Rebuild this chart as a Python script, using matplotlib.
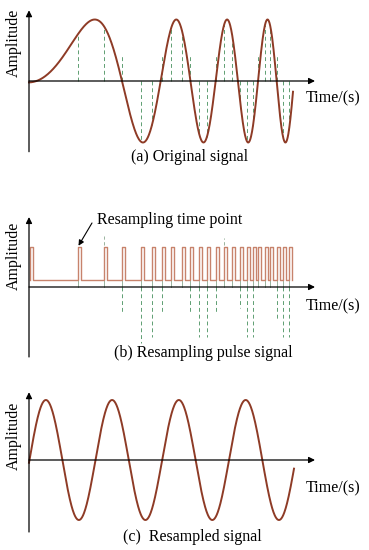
import numpy as np
import matplotlib
matplotlib.use("Agg")
import matplotlib.pyplot as plt

plt.rcParams["font.family"] = ["Liberation Serif", "DejaVu Serif"]
plt.rcParams["font.size"] = 11.5

# ---- data (time in arbitrary units, y-axis at t=0) ----
# (a) original signal: times of peaks, troughs and zero crossings
a_zero = [0, 94, 132, 161, 187, 211, 229, 248]
a_peak = [67, 147, 198, 238]
a_trough = [113, 173, 219, 256]
a_end = 264

# (b) resampling pulses (rising edge times), pulse width and levels
pulse_t = [1, 49, 75, 93, 112, 123, 133, 142, 153, 161, 170, 178,
           187, 195, 203, 211, 218, 224, 229, 236, 241, 248, 254, 260]
pulse_w = 3.3
pulse_low = 0.2
pulse_high = 1.2
below_idx = [3, 4, 5, 6, 9, 10, 11, 12, 15, 16, 17, 21, 22, 23]
below_depth = [0.75, 1.7, 1.5, 0.8, 0.75, 1.5, 1.5, 0.75, 0.65, 1.5, 1.5, 1.0, 1.5, 1.5]
above_idx = [2, 13]
above_top = [1.55, 1.5]

# (c) resampled signal
c_zero = [0, 33, 67, 99, 133, 167, 200, 233]
c_peak = [18, 84, 150, 217]
c_trough = [49, 116, 183, 250]
c_end = 265

CURVE = "#8e3b26"
PULSE = "#c7836c"
DASH = "#5e9e72"
W, H = 369, 550


def phase_fit(zeros, peaks, troughs):
    t = np.array(zeros + peaks + troughs, dtype=float)
    ph = np.concatenate([np.arange(len(zeros)) * np.pi,
                         np.arange(len(peaks)) * 2 * np.pi + np.pi / 2,
                         np.arange(len(troughs)) * 2 * np.pi + 3 * np.pi / 2])
    return np.poly1d(np.polyfit(t, ph, 3))


def panel(top_px, bot_px, zero_px, unit_px):
    ax = fig.add_axes([0, 1 - bot_px / H, 1, (bot_px - top_px) / H])
    ax.set_xlim(-29, W - 29)
    ax.set_ylim(-(bot_px - zero_px) / unit_px, (zero_px - top_px) / unit_px)
    ax.axis("off")
    return ax


def axes_arrows(ax, ylo, yhi, xend=286):
    ap = dict(arrowstyle="-|>", color="black", lw=0.9, shrinkA=0, shrinkB=0,
              mutation_scale=9)
    ax.annotate("", xy=(0, yhi), xytext=(0, ylo), arrowprops=ap)
    ax.annotate("", xy=(xend, 0), xytext=(0, 0), arrowprops=ap)


fig = plt.figure(figsize=(W / 100, H / 100), dpi=100)

# ---------------- (a) ----------------
ax = panel(0, 170, 81, 61.5)
pa = phase_fit(a_zero, a_peak, a_trough)
ta = np.linspace(0, a_end, 800)
for i, tp in enumerate(pulse_t[1:]):
    v = np.sin(pa(tp))
    if abs(v) < 0.3:
        v = 0.4
    ax.plot([tp, tp], [0, v], color=DASH, lw=0.7, ls=(0, (4, 3)))
ax.plot(ta, np.sin(pa(ta)), color=CURVE, lw=1.4)
axes_arrows(ax, -1.15, 1.15)
ax.text(277, -0.28, "Time/(s)", ha="left", va="center")
ax.text(-15, 0.62, "Amplitude", rotation=90, ha="center", va="center")
ax.text(161, -1.236, "(a) Original signal", ha="center", va="center")

# ---------------- (b) ----------------
ax = panel(170, 365, 287, 33)
px, py = [], []
for tp in pulse_t:
    px += [tp, tp, tp + pulse_w, tp + pulse_w]
    py += [pulse_low, pulse_high, pulse_high, pulse_low]
for tp in pulse_t[1:]:
    ax.plot([tp, tp], [0, pulse_low], color="#8aa88f", lw=0.6)
for i, d in zip(below_idx, below_depth):
    ax.plot([pulse_t[i], pulse_t[i]], [0, -d], color=DASH, lw=0.7, ls=(0, (4, 3)))
for i, top in zip(above_idx, above_top):
    ax.plot([pulse_t[i], pulse_t[i]], [pulse_low, top], color="#8aa88f", lw=0.6,
            ls=(0, (4, 3)))
ax.plot(px, py, color=PULSE, lw=1.0)
axes_arrows(ax, -2.12, 2.12)
ax.text(277, -0.58, "Time/(s)", ha="left", va="center")
ax.text(-15, 0.94, "Amplitude", rotation=90, ha="center", va="center")
ax.text(174, -2.0, "(b) Resampling pulse signal", ha="center", va="center")
ax.text(68, 2.03, "Resampling time point", ha="left", va="center")
ax.annotate("", xy=(pulse_t[1] + 0.5, pulse_high + 0.05), xytext=(63, 1.94),
            arrowprops=dict(arrowstyle="-|>", color="black", lw=0.8,
                            shrinkA=0, shrinkB=0, mutation_scale=8))

# ---------------- (c) ----------------
ax = panel(365, 550, 460, 60)
pc = phase_fit(c_zero, c_peak, c_trough)
tc = np.linspace(0, c_end, 800)
ax.plot(tc, np.sin(pc(tc)), color=CURVE, lw=1.4)
axes_arrows(ax, -1.2, 1.13)
ax.text(277, -0.48, "Time/(s)", ha="left", va="center")
ax.text(-15, 0.4, "Amplitude", rotation=90, ha="center", va="center")
ax.text(163, -1.28, "(c)  Resampled signal", ha="center", va="center")

fig.savefig("out.png", dpi=100)
